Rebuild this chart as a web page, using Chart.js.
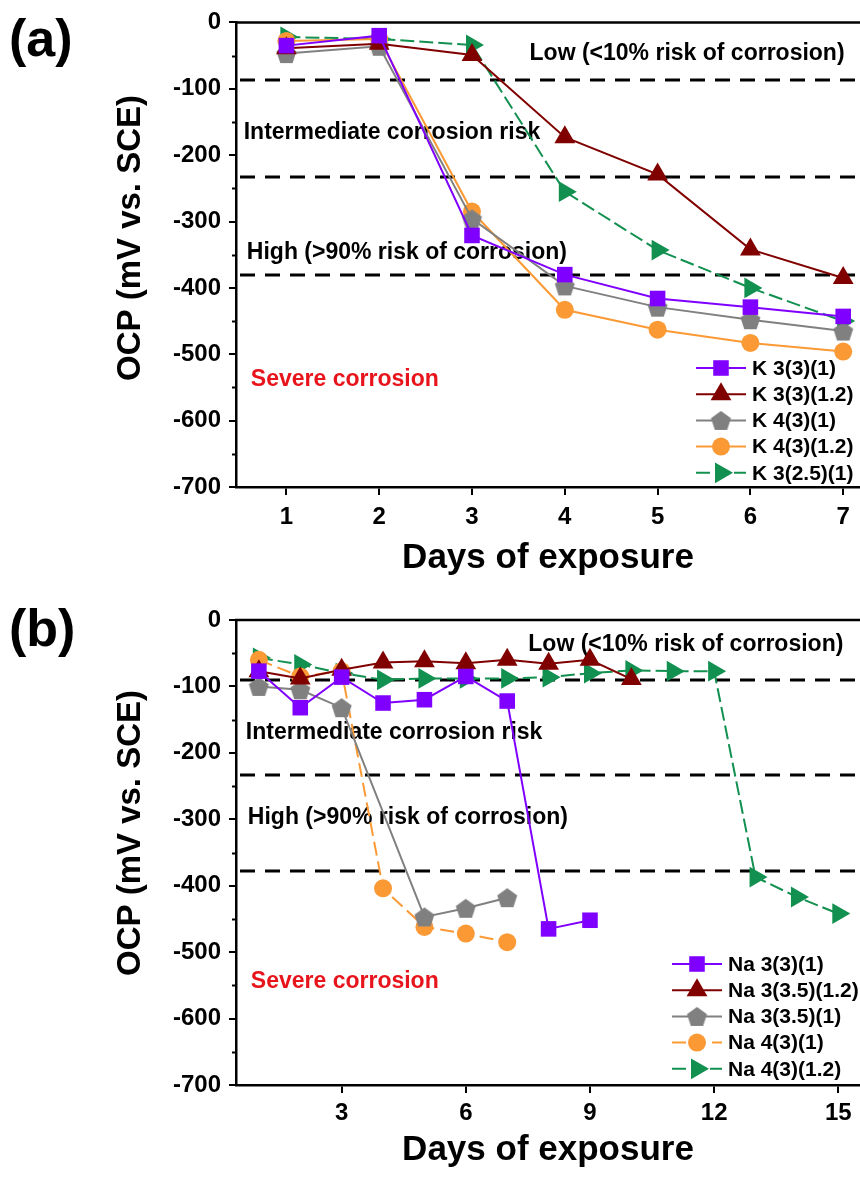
<!DOCTYPE html>
<html>
<head>
<meta charset="utf-8">
<title>OCP vs. days of exposure</title>
<script src="https://cdn.jsdelivr.net/npm/chart.js@4.4.1/dist/chart.umd.min.js"></script>
<style>
  html, body { margin: 0; padding: 0; background: #fff; }
  body { width: 860px; height: 1178px; overflow: hidden; }
  canvas { display: block; }
</style>
</head>
<body>
<canvas id="chartA" width="872" height="589"></canvas>
<canvas id="chartB" width="872" height="589"></canvas>
<script>
// (a) potassium mixes, days 1-7
const daysA = [1, 2, 3, 4, 5, 6, 7];
const k3_3_1  = [-35, -20, -321, -380, -416, -429, -443];
const k3_3_12 = [-39, -32, -49, -173, -229, -342, -385];
const k4_3_1  = [-47, -36, -296, -397, -429, -448, -465];
const k4_3_12 = [-28, -25, -285, -433, -463, -483, -496];
const k3_25_1 = [-22, -25, -34, -255, -343, -400, -450];
const labelsA = ['K 3(3)(1)', 'K 3(3)(1.2)', 'K 4(3)(1)', 'K 4(3)(1.2)', 'K 3(2.5)(1)'];

// (b) sodium mixes, each measured up to its own last day
const daysNa3_3_1 = [1, 2, 3, 4, 5, 6, 7, 8, 9];
const na3_3_1 = [-77, -132, -86, -125, -120, -85, -122, -465, -452];
const daysNa3_35_12 = [1, 2, 3, 4, 5, 6, 7, 8, 9, 10];
const na3_35_12 = [-77, -88, -75, -64, -62, -65, -60, -66, -60, -89];
const daysNa3_35_1 = [1, 2, 3, 5, 6, 7];
const na3_35_1 = [-100, -105, -132, -447, -434, -418];
const daysNa4_3_1 = [1, 2, 3, 4, 5, 6, 7];
const na4_3_1 = [-60, -85, -77, -404, -462, -472, -485];
const daysNa4_3_12 = [1, 2, 3, 4, 5, 6, 7, 8, 9, 10, 11, 12, 13, 14, 15];
const na4_3_12 = [-57, -67, -80, -90, -88, -88, -88, -86, -80, -76, -77, -77, -387, -417, -442];
const labelsB = ['Na 3(3)(1)', 'Na 3(3.5)(1.2)', 'Na 3(3.5)(1)', 'Na 4(3)(1)', 'Na 4(3)(1.2)'];

// axis ticks
const yTicks = [0, -100, -200, -300, -400, -500, -600, -700];
const yMinorTicks = [-50, -150, -250, -350, -450, -550, -650];
const xTicksA = [1, 2, 3, 4, 5, 6, 7];
const xTicksB = [3, 6, 9, 12, 15];

// corrosion risk boundaries, mV vs. SCE
const riskLinesA = [-87, -233, -380];
const riskLinesB = [-90, -233, -378];
const zoneTexts = ['Low (<10% risk of corrosion)', 'Intermediate corrosion risk',
                   'High (>90% risk of corrosion)', 'Severe corrosion'];

const FONT = '"Liberation Sans", Arial, Helvetica, sans-serif';

function pentagon(color, r) {
  const c = document.createElement('canvas');
  const s = Math.ceil(r * 2 + 2);
  c.width = s; c.height = s;
  const g = c.getContext('2d');
  g.fillStyle = color;
  g.beginPath();
  for (let i = 0; i < 5; i++) {
    const a = -Math.PI / 2 + i * 2 * Math.PI / 5;
    const px = s / 2 + r * Math.cos(a), py = s / 2 + r * Math.sin(a) + r * 0.1;
    if (i) g.lineTo(px, py); else g.moveTo(px, py);
  }
  g.closePath();
  g.fill();
  return c;
}

const styles = [
  { color: '#8000ff', pointStyle: 'rect', radius: 11, rotation: 0 },
  { color: '#800000', pointStyle: 'triangle', radius: 12, rotation: 0 },
  { color: '#808080', pointStyle: pentagon('#808080', 10.5), radius: 10, rotation: 0 },
  { color: '#fb9a35', pointStyle: 'circle', radius: 9, rotation: 0 },
  { color: '#11904f', pointStyle: 'triangle', radius: 12, rotation: 90 },
];

function series(label, xs, ys, st, dash) {
  return {
    label: label,
    data: xs.map((x, i) => ({ x: x, y: ys[i] })),
    borderColor: st.color,
    backgroundColor: st.color,
    borderWidth: 2,
    borderDash: dash || [],
    pointStyle: st.pointStyle,
    pointRadius: st.radius,
    pointRotation: st.rotation,
    pointBackgroundColor: st.color,
    pointBorderWidth: 0,
    tension: 0,
    clip: false,
  };
}

// dashed risk lines, zone labels, legend, minor ticks, frame, y title and panel tag
const panelExtras = {
  id: 'panelExtras',
  beforeDatasetsDraw(chart, args, o) {
    const { ctx, chartArea: a, scales: { x, y } } = chart;
    ctx.save();
    ctx.strokeStyle = '#000';
    ctx.lineWidth = 3;
    ctx.setLineDash([15, 10]);
    o.riskLines.forEach(v => {
      const py = Math.round(y.getPixelForValue(v));
      ctx.beginPath();
      ctx.moveTo(a.left + 4, py);
      ctx.lineTo(a.right, py);
      ctx.stroke();
    });
    ctx.setLineDash([]);
    ctx.font = 'bold 23px ' + FONT;
    ctx.textAlign = 'left';
    ctx.textBaseline = 'middle';
    o.zones.forEach((z, i) => {
      ctx.fillStyle = i === 3 ? '#e8141c' : '#000';
      ctx.fillText(zoneTexts[i], x.getPixelForValue(z[0]), y.getPixelForValue(z[1]));
    });
    ctx.restore();
  },
  afterDatasetsDraw(chart, args, o) {
    const { ctx } = chart;
    const L = o.legend;
    ctx.save();
    chart.data.datasets.forEach((ds, i) => {
      const yy = L.y + i * L.rowH;
      ctx.strokeStyle = ds.borderColor;
      ctx.lineWidth = 2;
      ctx.setLineDash(ds.borderDash);
      ctx.beginPath();
      ctx.moveTo(L.x, yy);
      ctx.lineTo(L.x + 50, yy);
      ctx.stroke();
      ctx.setLineDash([]);
      ctx.fillStyle = ds.pointBackgroundColor;
      Chart.helpers.drawPoint(ctx, {
        pointStyle: ds.pointStyle, rotation: ds.pointRotation,
        radius: ds.pointRadius, borderWidth: 0
      }, L.x + 25, yy);
      ctx.fillStyle = '#000';
      ctx.font = 'bold 21px ' + FONT;
      ctx.textAlign = 'left';
      ctx.textBaseline = 'middle';
      ctx.fillText(ds.label, L.x + 56, yy + 1);
    });
    ctx.restore();
  },
  afterDraw(chart, args, o) {
    const { ctx, chartArea: a, scales: { y } } = chart;
    ctx.save();
    ctx.strokeStyle = '#000';
    ctx.lineWidth = 2;
    yMinorTicks.forEach(v => {
      const py = Math.round(y.getPixelForValue(v)) + 0.5;
      ctx.beginPath();
      ctx.moveTo(a.left - 4, py);
      ctx.lineTo(a.left, py);
      ctx.stroke();
    });
    ctx.lineWidth = 2.5;
    ctx.beginPath();
    ctx.moveTo(a.left - 1, a.top);
    ctx.lineTo(a.right, a.top);
    ctx.stroke();

    ctx.fillStyle = '#000';
    ctx.translate(131, o.yTitleY);
    ctx.rotate(-Math.PI / 2);
    ctx.font = 'bold 33px ' + FONT;
    ctx.textAlign = 'center';
    ctx.textBaseline = 'middle';
    ctx.fillText('OCP (mV vs. SCE)', 0, 0);
    ctx.restore();

    ctx.save();
    ctx.fillStyle = '#000';
    ctx.font = 'bold 52px ' + FONT;
    ctx.textAlign = 'left';
    ctx.textBaseline = 'alphabetic';
    ctx.fillText(o.tag, 9, o.tagY);
    ctx.restore();
  }
};

function makeChart(id, datasets, p) {
  const tickFont = { family: FONT, size: 24, weight: 'bold' };
  return new Chart(document.getElementById(id), {
    type: 'line',
    data: { datasets: datasets },
    plugins: [panelExtras],
    options: {
      responsive: false,
      animation: false,
      events: [],
      layout: { padding: { top: p.top, right: 4, bottom: 0, left: 0 } },
      plugins: {
        legend: { display: false },
        tooltip: { enabled: false },
        panelExtras: p.extras,
      },
      scales: {
        x: {
          type: 'linear',
          min: p.xMin,
          max: p.xMax,
          afterBuildTicks: s => { s.ticks = p.xTicks.map(v => ({ value: v })); },
          afterFit: s => { s.height = p.xHeight; },
          border: { color: '#000', width: 2.5 },
          grid: { drawOnChartArea: false, tickLength: 8, color: '#000', lineWidth: 2 },
          ticks: { font: tickFont, color: '#000', padding: p.xTickPad, maxRotation: 0, autoSkip: false },
          title: {
            display: true, text: 'Days of exposure', color: '#000',
            font: { family: FONT, size: 35, weight: 'bold' },
            padding: { top: 0, bottom: p.titlePad }
          }
        },
        y: {
          min: -700,
          max: 0,
          afterBuildTicks: s => { s.ticks = yTicks.map(v => ({ value: v })); },
          afterFit: s => { s.width = 236; },
          border: { color: '#000', width: 2.5 },
          grid: { drawOnChartArea: false, tickLength: 7, color: '#000', lineWidth: 2 },
          ticks: { font: tickFont, color: '#000', padding: 8 }
        }
      }
    }
  });
}

makeChart('chartA', [
  series(labelsA[0], daysA, k3_3_1, styles[0]),
  series(labelsA[1], daysA, k3_3_12, styles[1]),
  series(labelsA[2], daysA, k4_3_1, styles[2]),
  series(labelsA[3], daysA, k4_3_12, styles[3]),
  series(labelsA[4], daysA, k3_25_1, styles[4], [14, 5]),
], {
  top: 21, xHeight: 102, titlePad: 10, xTickPad: 8,
  xMin: 0.457, xMax: 7.181, xTicks: xTicksA,
  extras: {
    riskLines: riskLinesA,
    zones: [[3.62, -47], [0.54, -166], [0.574, -347], [0.617, -539]],
    legend: { x: 696, y: 368, rowH: 26.2 },
    yTitleY: 238, tag: '(a)', tagY: 56
  }
});

makeChart('chartB', [
  series(labelsB[0], daysNa3_3_1, na3_3_1, styles[0]),
  series(labelsB[1], daysNa3_35_12, na3_35_12, styles[1]),
  series(labelsB[2], daysNa3_35_1, na3_35_1, styles[2]),
  series(labelsB[3], daysNa4_3_1, na4_3_1, styles[3], [14, 6]),
  series(labelsB[4], daysNa4_3_12, na4_3_12, styles[4], [14, 5]),
], {
  top: 31, xHeight: 93, titlePad: 7, xTickPad: 6,
  xMin: 0.4475, xMax: 15.524, xTicks: xTicksB,
  extras: {
    riskLines: riskLinesB,
    zones: [[7.51, -37], [0.686, -170], [0.734, -298], [0.805, -544]],
    legend: { x: 672, y: 375, rowH: 26.2 },
    yTitleY: 244, tag: '(b)', tagY: 57
  }
});
</script>
</body>
</html>
